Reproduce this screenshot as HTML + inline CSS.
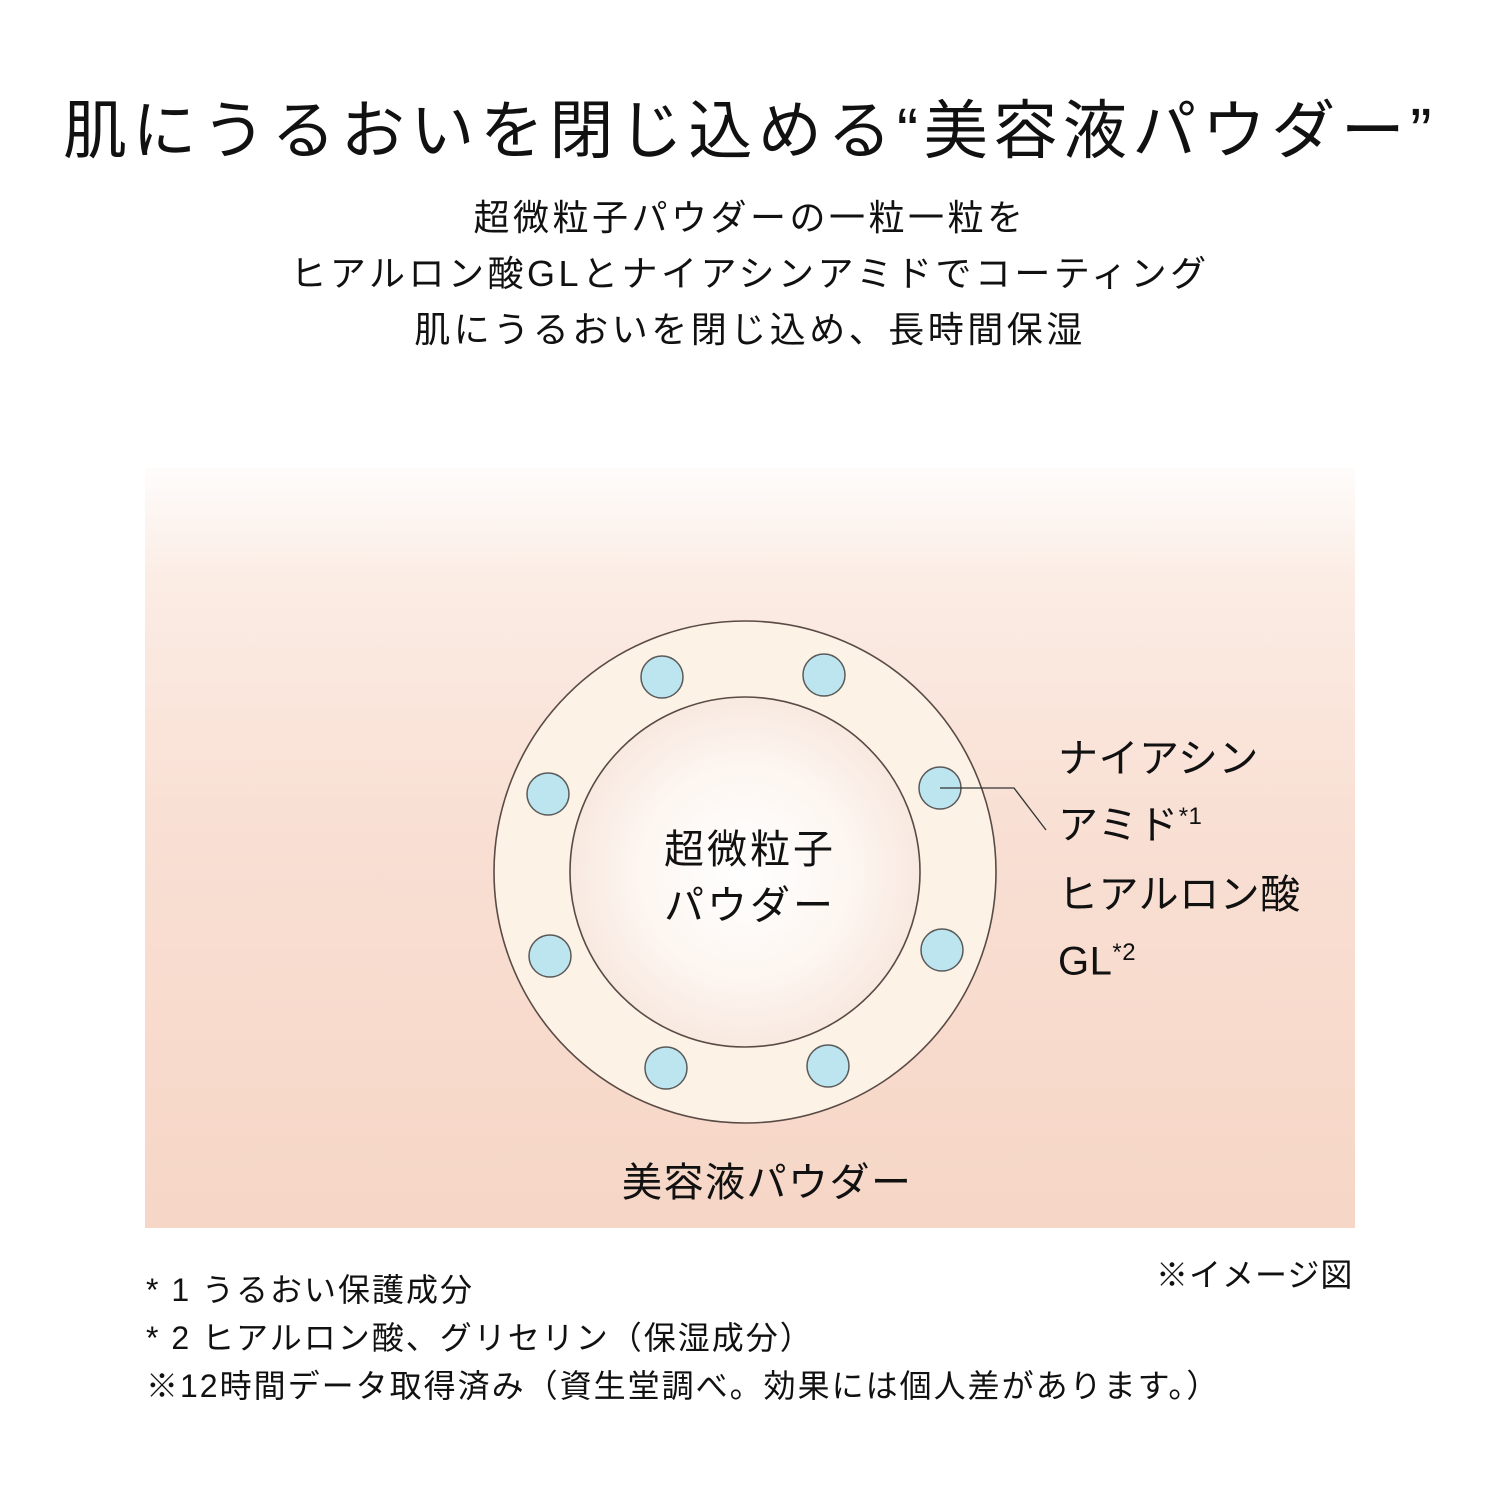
<!DOCTYPE html>
<html><head><meta charset="utf-8"><style>
body{margin:0;width:1500px;height:1500px;background:#fff;position:relative;font-family:"Liberation Sans","Noto Sans CJK JP",sans-serif;color:#111;overflow:hidden}
.t{position:absolute;white-space:nowrap}
</style></head><body>
<div class="t" style="left:0;width:1500px;text-align:center;top:80px;font-size:64px;letter-spacing:5.5px">肌にうるおいを閉じ込める“美容液パウダー”</div>
<div class="t" style="left:0;width:1500px;text-align:center;top:190px;font-size:36px;line-height:56px;letter-spacing:3.5px">超微粒子パウダーの一粒一粒を<br>ヒアルロン酸GLとナイアシンアミドでコーティング<br>肌にうるおいを閉じ込め、長時間保湿</div>
<div style="position:absolute;left:145px;top:468px;width:1210px;height:760px;background:linear-gradient(#fefcfb 0%,#fbece4 15%,#f9e0d4 45%,#f6d6c6 100%)"></div>
<svg style="position:absolute;left:0;top:0" width="1500" height="1500">
<defs><radialGradient id="g"><stop offset="0" stop-color="#fff"/><stop offset="0.6" stop-color="#fdf6f1"/><stop offset="1" stop-color="#f8e9e0"/></radialGradient></defs>
<circle cx="745" cy="872" r="251" fill="#fcf3e6" stroke="#5a4a45" stroke-width="1.6"/>
<circle cx="745" cy="872" r="175" fill="url(#g)" stroke="#5a4a45" stroke-width="1.6"/>
<g fill="#bde5f0" stroke="#5a5a5a" stroke-width="1.5">
<circle cx="662" cy="677" r="21"/><circle cx="824" cy="675" r="21"/>
<circle cx="548" cy="794" r="21"/><circle cx="940" cy="788" r="21"/>
<circle cx="550" cy="956" r="21"/><circle cx="942" cy="950" r="21"/>
<circle cx="666" cy="1068" r="21"/><circle cx="828" cy="1066" r="21"/>
</g>
<polyline points="940,788 1014,788 1046,830" fill="none" stroke="#333" stroke-width="1.3"/>
</svg>
<div class="t" style="left:645px;width:210px;top:822px;font-size:40px;line-height:56px;text-align:center;letter-spacing:3px">超微粒子<br>パウダー</div>
<div class="t" style="left:1058px;top:730px;font-size:40px;line-height:58px;letter-spacing:0.5px">ナイアシン<br>アミド<sup style="font-size:24px">*1</sup></div>
<div class="t" style="left:1058px;top:866px;font-size:40px;line-height:58px;letter-spacing:0.5px">ヒアルロン酸<br>GL<sup style="font-size:24px">*2</sup></div>
<div class="t" style="left:622px;top:1150px;font-size:40px;letter-spacing:1.5px">美容液パウダー</div>
<div class="t" style="left:1156px;top:1250px;font-size:32px;letter-spacing:1px">※イメージ図</div>
<div class="t" style="left:146px;top:1266px;font-size:32px;line-height:48px;letter-spacing:2px">* 1 うるおい保護成分<br>* 2 ヒアルロン酸、グリセリン（保湿成分）<br>※12時間データ取得済み（資生堂調べ。効果には個人差があります。）</div>
</body></html>
